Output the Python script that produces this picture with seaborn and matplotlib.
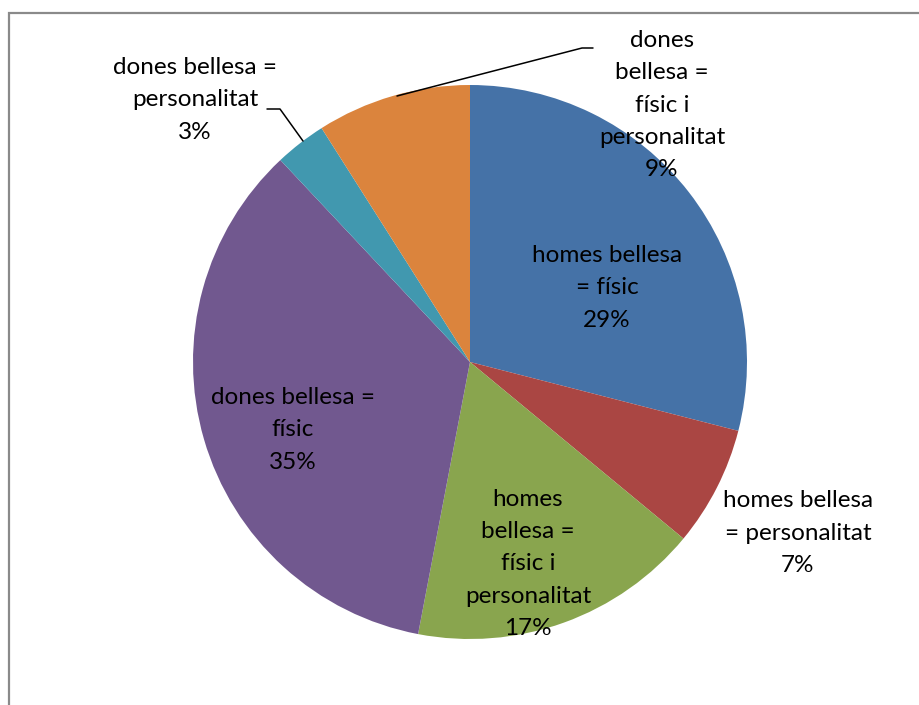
import matplotlib
matplotlib.use("Agg")
import matplotlib.pyplot as plt
from matplotlib.patches import Rectangle
import seaborn as sns

# Survey answers: what beauty means, split by men (homes) and women (dones)
categories = [
    "homes bellesa\n= físic",
    "homes bellesa\n= personalitat",
    "homes\nbellesa =\nfísic i\npersonalitat",
    "dones bellesa =\nfísic",
    "dones bellesa =\npersonalitat",
    "dones\nbellesa =\nfísic i\npersonalitat",
]
shares = [29, 7, 17, 35, 3, 9]
colors = ["#4572A7", "#AA4643", "#89A54E", "#71588F", "#4198AF", "#DB843D"]

sns.set_theme(style="white")
plt.rcParams["font.family"] = ["Lato", "DejaVu Sans"]

W, H = 919, 705
fig = plt.figure(figsize=(W / 100, H / 100), dpi=100)
ax = fig.add_axes([0, 0, 1, 1])

cx, cy, r = 470, H - 362, 277
ax.pie(
    shares,
    colors=sns.color_palette(colors),
    startangle=90,
    counterclock=False,
    center=(cx, cy),
    radius=r,
    wedgeprops=dict(linewidth=0),
    frame=True,
)
ax.set_xlim(0, W)
ax.set_ylim(0, H)
ax.set_aspect("equal")
ax.axis("off")

# label anchor points (pixel space, y measured from top)
label_pos = [(607, 288), (798, 533), (528, 564), (293, 430), (195, 100), (662, 105)]
for cat, val, (x, y) in zip(categories, shares, label_pos):
    ax.text(x, H - y, f"{cat}\n{val}%", ha="center", va="center",
            fontsize=17.5, color="black", linespacing=1.66)

# leader lines for the two outside labels
ax.plot([267, 280, 303], [H - 109, H - 109, H - 141], color="black", lw=1.1)
ax.plot([593, 582, 397], [H - 48, H - 48, H - 96], color="black", lw=1.1)

# chart area border (only top and left edges fall inside the image)
fig.patches.append(Rectangle((9 / W, -0.1), 1.2, (H - 13) / H + 0.1,
                             transform=fig.transFigure, fill=False,
                             edgecolor="#8a8a8a", linewidth=1.6))

fig.savefig("out.png", dpi=100, facecolor="white")
